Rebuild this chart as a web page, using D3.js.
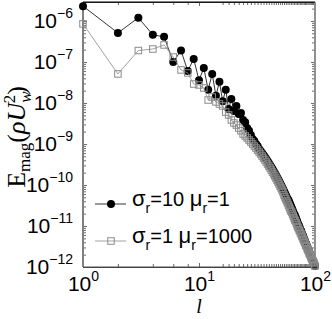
<!DOCTYPE html>
<html>
<head>
<meta charset="utf-8">
<script src="https://cdn.jsdelivr.net/npm/d3@7"></script>
<style>
    body { margin: 0; background: #fff; }
    svg { display: block; }
</style>
</head>
<body>
<svg id="chart" width="332" height="319"></svg>
<script>
// harmonic degree l
const degrees = [
    1, 2, 3, 4, 5, 6, 7, 8, 9, 10, 11, 12, 13, 14, 15, 16, 17, 18, 19, 20,
    21, 22, 23, 24, 25, 26, 27, 28, 29, 30, 31, 32, 33, 34, 35, 36, 37, 38, 39, 40,
    41, 42, 43, 44, 45, 46, 47, 48, 49, 50, 51, 52, 53, 54, 55, 56, 57, 58, 59, 60,
    61, 62, 63, 64, 65, 66, 67, 68, 69, 70, 71, 72, 73, 74, 75, 76, 77, 78, 79, 80,
    81, 82, 83, 84, 85, 86, 87, 88, 89, 90, 91, 92, 93, 94, 95, 96, 97, 98, 99, 100
];

// sigma_r = 10, mu_r = 1 (black dots)
const emagSigma10 = [
    2.3e-6, 5.1e-7, 1.2e-6, 4.6e-7, 4.1e-7, 1.0e-7, 1.9e-7, 6.0e-8, 1.18e-7, 3.6e-8,
    7.1e-8, 2.1e-8, 5.1e-8, 1.5e-8, 3.3e-8, 1.1e-8, 2.1e-8, 7.1e-9, 1.25e-8, 6.4e-9,
    8.4e-9, 5.4e-9, 5.7e-9, 3.85e-9, 3.4e-9, 2.45e-9, 2.1e-9, 1.66e-9, 1.32e-9, 1.18e-9,
    1.0e-9, 8.9e-10, 7.55e-10, 6.75e-10, 6.0e-10, 5.4e-10, 4.8e-10, 4.3e-10, 3.85e-10, 3.44e-10,
    3.07e-10, 2.75e-10, 2.45e-10, 2.19e-10, 1.96e-10, 1.75e-10, 1.57e-10, 1.40e-10, 1.25e-10, 1.12e-10,
    1.0e-10, 8.9e-11, 7.97e-11, 7.1e-11, 6.37e-11, 5.7e-11, 5.08e-11, 4.54e-11, 4.29e-11, 3.85e-11,
    3.44e-11, 3.07e-11, 2.75e-11, 2.45e-11, 2.19e-11, 1.96e-11, 1.85e-11, 1.66e-11, 1.48e-11, 1.32e-11,
    1.18e-11, 1.06e-11, 1.0e-11, 8.94e-12, 8.0e-12, 7.55e-12, 6.75e-12, 6.03e-12, 5.7e-12, 5.1e-12,
    4.55e-12, 4.3e-12, 3.85e-12, 3.64e-12, 3.25e-12, 3.07e-12, 2.75e-12, 2.6e-12, 2.32e-12, 2.19e-12,
    1.96e-12, 1.85e-12, 1.66e-12, 1.57e-12, 1.48e-12, 1.32e-12, 1.25e-12, 1.18e-12, 1.12e-12, 1.06e-12
];

// sigma_r = 1, mu_r = 1000 (grey squares)
const emagMu1000 = [
    8.5e-7, 5.1e-8, 1.9e-7, 2.07e-7, 2.6e-7, 1.32e-7, 6.4e-8, 5.4e-8, 2.9e-8, 2.75e-8,
    2.32e-8, 1.18e-8, 1.4e-8, 1.06e-8, 9.45e-9, 8.45e-9, 6.0e-9, 5.1e-9, 3.85e-9, 3.25e-9,
    2.9e-9, 2.45e-9, 2.1e-9, 1.75e-9, 1.57e-9, 1.40e-9, 1.25e-9, 1.12e-9, 1.0e-9, 8.9e-10,
    7.97e-10, 7.1e-10, 6.37e-10, 5.7e-10, 5.08e-10, 4.54e-10, 4.07e-10, 3.64e-10, 3.25e-10, 2.9e-10,
    2.6e-10, 2.32e-10, 2.07e-10, 1.85e-10, 1.66e-10, 1.48e-10, 1.32e-10, 1.18e-10, 1.06e-10, 9.45e-11,
    8.45e-11, 7.55e-11, 6.75e-11, 5.7e-11, 5.1e-11, 4.55e-11, 4.07e-11, 3.64e-11, 3.25e-11, 2.9e-11,
    2.6e-11, 2.32e-11, 2.19e-11, 1.96e-11, 1.75e-11, 1.57e-11, 1.40e-11, 1.32e-11, 1.18e-11, 1.06e-11,
    9.45e-12, 8.94e-12, 8.0e-12, 7.55e-12, 6.75e-12, 6.37e-12, 5.7e-12, 5.4e-12, 4.8e-12, 4.55e-12,
    4.07e-12, 3.85e-12, 3.44e-12, 3.25e-12, 3.07e-12, 2.75e-12, 2.6e-12, 2.45e-12, 2.19e-12, 2.07e-12,
    1.96e-12, 1.85e-12, 1.66e-12, 1.57e-12, 1.48e-12, 1.40e-12, 1.32e-12, 1.25e-12, 1.12e-12, 1.06e-12
];

const xTicks = [1, 10, 100];
const xTickExp = ['0', '1', '2'];
const yTicks = [1e-12, 1e-11, 1e-10, 1e-9, 1e-8, 1e-7, 1e-6];
const yTickExp = ['\u221212', '\u221211', '\u221210', '\u22129', '\u22128', '\u22127', '\u22126'];
const legendSigma = ['10', '1'];
const legendMu = ['1', '1000'];

const sans = 'Liberation Sans, Arial, sans-serif';
const serif = 'Liberation Serif, Times New Roman, serif';

const svg = d3.select('#chart');
const plotL = 83, plotR = 315, plotT = 2, plotB = 267;

const x = d3.scaleLog().domain([1, 100]).range([plotL, plotR]);
const y = d3.scaleLog().domain([1e-12, 2.9e-6]).range([plotB, plotT]);

// minor ticks 2..9 per decade, only inside the domain
function minors(scale) {
    const [a, b] = scale.domain();
    return scale.ticks(50).filter(v => {
        const m = v / Math.pow(10, Math.floor(Math.log10(v) + 1e-9));
        return Math.round(m) !== 1 && v >= a && v <= b;
    });
}

// axes, ticks pointing inward on all four sides
function drawAxis(axis, tx, ty, cls) {
    return svg.append('g')
        .attr('class', cls)
        .attr('transform', `translate(${tx},${ty})`)
        .call(axis);
}

const minorLen = 3, majorLen = 4;
drawAxis(d3.axisBottom(x).tickValues(minors(x)).tickSize(-minorLen).tickSizeOuter(0).tickFormat(''), 0, plotB, 'minor');
drawAxis(d3.axisTop(x).tickValues(minors(x)).tickSize(-minorLen).tickSizeOuter(0).tickFormat(''), 0, plotT, 'minor');
drawAxis(d3.axisLeft(y).tickValues(minors(y)).tickSize(-minorLen).tickSizeOuter(0).tickFormat(''), plotL, 0, 'minor');
drawAxis(d3.axisRight(y).tickValues(minors(y)).tickSize(-minorLen).tickSizeOuter(0).tickFormat(''), plotR, 0, 'minor');
drawAxis(d3.axisTop(x).tickValues(xTicks).tickSize(-majorLen).tickSizeOuter(0).tickFormat(''), 0, plotT, 'major');
drawAxis(d3.axisRight(y).tickValues(yTicks).tickSize(-majorLen).tickSizeOuter(0).tickFormat(''), plotR, 0, 'major');

const xAxis = drawAxis(d3.axisBottom(x).tickValues(xTicks).tickSize(-majorLen).tickSizeOuter(0).tickPadding(9), 0, plotB, 'major');
const yAxis = drawAxis(d3.axisLeft(y).tickValues(yTicks).tickSize(-majorLen).tickSizeOuter(0).tickPadding(10), plotL, 0, 'major');

svg.selectAll('.tick line').attr('stroke', '#444').attr('stroke-width', 0.8);
svg.selectAll('.domain').attr('stroke', '#333').attr('stroke-width', 1);

// 10^n labels
xAxis.selectAll('.tick text').each(function(d, i) {
    const t = d3.select(this).text('').attr('font-family', sans).attr('font-size', 21).attr('fill', '#000');
    t.append('tspan').text('10');
    t.append('tspan').attr('dy', -10).attr('font-size', 14).text(xTickExp[i]);
});
yAxis.selectAll('.tick text').each(function(d, i) {
    const t = d3.select(this).text('').attr('font-family', sans).attr('font-size', 21).attr('fill', '#000');
    t.append('tspan').text('10');
    t.append('tspan').attr('dy', -10).attr('font-size', 14).text(yTickExp[i]);
});

// left and right frame lines are greyer and thicker
svg.append('line').attr('x1', plotL).attr('x2', plotL).attr('y1', plotT).attr('y2', plotB)
    .attr('stroke', '#808080').attr('stroke-width', 2);
svg.append('line').attr('x1', plotR).attr('x2', plotR).attr('y1', plotT).attr('y2', plotB)
    .attr('stroke', '#909090').attr('stroke-width', 2);
svg.append('line').attr('x1', plotL).attr('x2', plotR).attr('y1', plotT).attr('y2', plotT)
    .attr('stroke', '#000').attr('stroke-width', 1);
svg.append('line').attr('x1', plotL).attr('x2', plotR).attr('y1', plotB).attr('y2', plotB)
    .attr('stroke', '#555').attr('stroke-width', 1.2);

// series
const line = d3.line().x((d, i) => x(degrees[i])).y(d => y(d));
const dotR = 4, sq = 6.5, grey = '#8a8a8a';

svg.append('path').datum(emagSigma10)
    .attr('d', line).attr('fill', 'none').attr('stroke', '#000').attr('stroke-width', 0.8);
svg.append('g').selectAll('circle').data(emagSigma10).join('circle')
    .attr('cx', (d, i) => x(degrees[i])).attr('cy', d => y(d))
    .attr('r', dotR).attr('fill', '#000');

svg.append('path').datum(emagMu1000)
    .attr('d', line).attr('fill', 'none').attr('stroke', grey).attr('stroke-width', 0.8);
svg.append('g').selectAll('rect').data(emagMu1000).join('rect')
    .attr('x', (d, i) => x(degrees[i]) - sq / 2).attr('y', d => y(d) - sq / 2)
    .attr('width', sq).attr('height', sq)
    .attr('fill', 'none').attr('stroke', grey).attr('stroke-width', 1);

// legend
const legend = svg.append('g').attr('font-family', sans);
[204, 241].forEach((ly, i) => {
    const col = i === 0 ? '#000' : grey;
    legend.append('line').attr('x1', 95).attr('x2', 126).attr('y1', ly).attr('y2', ly)
        .attr('stroke', col).attr('stroke-width', 0.8);
    if (i === 0) {
        legend.append('circle').attr('cx', 111).attr('cy', ly).attr('r', dotR).attr('fill', '#000');
    } else {
        legend.append('rect').attr('x', 111 - sq / 2).attr('y', ly - sq / 2).attr('width', sq).attr('height', sq)
            .attr('fill', 'none').attr('stroke', col).attr('stroke-width', 1);
    }
    const t = legend.append('text').attr('x', 132).attr('y', ly + 2).attr('font-size', 20);
    t.append('tspan').attr('font-size', 22).text('\u03c3');
    t.append('tspan').attr('dy', 7).attr('font-size', 14).text('r');
    t.append('tspan').attr('dy', -7).text('=' + legendSigma[i] + ' ');
    t.append('tspan').attr('font-size', 22).text('\u03bc');
    t.append('tspan').attr('dy', 7).attr('font-size', 14).text('r');
    t.append('tspan').attr('dy', -7).text('=' + legendMu[i]);
});

// axis labels
svg.append('text').attr('x', 199).attr('y', 313).attr('text-anchor', 'middle')
    .attr('font-family', serif).attr('font-style', 'italic').attr('font-size', 20).text('l');

const yl = svg.append('text')
    .attr('transform', 'translate(25,137) rotate(-90)')
    .attr('text-anchor', 'middle').attr('font-family', serif).attr('font-size', 26);
yl.append('tspan').text('E');
yl.append('tspan').attr('dy', 5).attr('font-size', 17).text('mag');
yl.append('tspan').attr('dy', -5).text('(');
yl.append('tspan').attr('font-style', 'italic').text('\u03c1U');
yl.append('tspan').attr('dy', 6).attr('font-size', 17).attr('font-style', 'italic').text('w');
yl.append('tspan').attr('dx', -12).attr('dy', -16).attr('font-size', 17).text('2');
yl.append('tspan').attr('dy', 10).text(')');
</script>
</body>
</html>
